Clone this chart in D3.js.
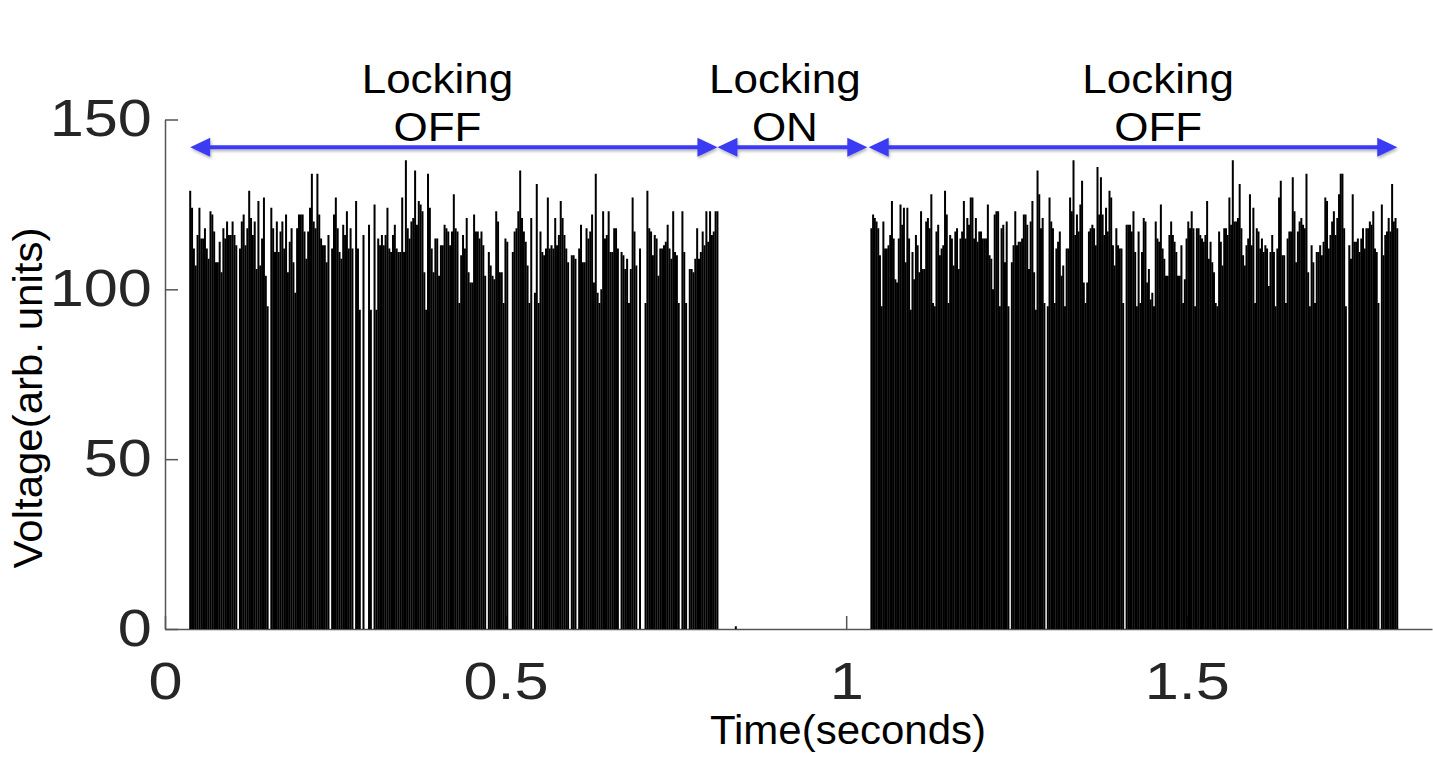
<!DOCTYPE html>
<html lang="en">
<head>
<meta charset="UTF-8">
<title>Voltage vs time, locking on/off</title>
<script src="https://cdn.jsdelivr.net/npm/d3@7/dist/d3.min.js"></script>
<style>
    body{ margin:0; background:#fff; }
    svg{ display:block; }
</style>
</head>
<body>
<script>
    // values (arb. units), spikes in time order
    const lockOffFirst = [
        129,124,112,107,116,124,115,115,118,112, 109,123,122,117,108,108,114,105,118,115,
        120,116,116,120,116,113,0,112,120,122, 113,118,129,121,116,120,106,126,107,115,
        127,104,95,0,124,118,111,120,111,117, 120,112,122,105,114,118,108,99,118,122,
        122,122,117,109,117,124,134,120,118,134, 122,115,113,113,108,116,0,112,122,127,
        118,111,109,119,116,123,112,118,112,0, 126,112,94,0,116,0,0,119,94,0,
        125,94,115,113,116,113,116,124,112,111, 116,119,112,111,111,127,111,138,118,115,
        120,121,135,119,126,125,123,105,94,134, 124,112,105,115,115,104,113,113,119,118,117,
        113,117,128,118,117,96,110,116,112,121, 105,102,102,122,117,117,115,117,113,104,
        0,111,107,104,103,123,120,105,105,96, 115,114,0,0,111,117,118,123,135,121,
        117,114,107,96,121,0,99,131,96,117, 111,110,112,127,112,113,112,121,113,116,
        126,121,116,112,108,0,110,110,109,0, 112,119,108,108,118,115,117,122,102,134,
        99,96,100,123,115,116,123,111,111,118, 118,112,0,111,110,106,109,96,106,127,
        117,107,0,112,0,0,96,129,118,117, 110,116,115,104,112,112,113,114,119,112,
        109,123,111,110,96,0,123,111,96,0, 106,106,105,109,118,109,111,117,113,123,
        114,123,116,117,123,123
    ];
    const lockOffSecond = [
        118,122,121,120,118,110,95,120,112,112, 113,116,126,115,103,102,115,125,119,124,
        108,124,115,94,111,103,116,113,105,123, 106,106,120,121,118,128,96,95,117,119,
        110,112,113,129,122,96,116,115,107,117, 118,106,115,117,126,115,121,119,127,127,
        115,121,114,117,117,115,115,115,125,110, 109,100,122,123,123,95,118,119,108,120,
        95,0,108,113,123,113,114,114,115,122, 122,119,106,120,126,105,94,135,128,118,
        121,96,0,95,127,120,118,96,112,114, 117,104,107,95,112,112,127,123,138,116,
        122,117,125,132,102,96,102,117,118,119, 118,113,136,122,133,122,116,124,117,129,
        127,113,107,118,113,112,112,96,0,119,119,
        119,117,123,111,95,117,96,111,121,120, 102,106,97,99,95,120,115,114,125,112,
        109,104,104,116,120,116,114,111,104,104, 113,96,103,115,120,118,123,118,95,118,
        118,116,115,114,116,126,109,114,108,105, 96,95,117,114,107,118,118,116,127,119,
        138,120,120,121,131,118,110,107,113,115, 128,113,124,96,118,117,112,115,111,113,
        112,101,111,116,111,95,112,127,132,110, 110,96,115,117,117,133,123,108,117,120,
        121,119,118,134,105,95,113,108,96,111, 111,113,110,114,127,126,112,116,120,123,
        116,121,128,134,134,118,95,0,113,109, 128,114,114,115,111,115,118,112,118,118,
        120,119,123,112,111,96,0,125,110,116, 117,121,117,131,120,121,118
    ];
    // the only blip while locking is on
    const lockOnTimes = [0.838];
    const lockOnValues = [0.8];

    // time span (s) of each sampled run
    const runStart = [0.037, 1.037];
    const runEnd = [0.811, 1.809];

    // annotation regions (s)
    const regionStart = [0.037, 0.811, 1.033];
    const regionEnd = [0.811, 1.031, 1.809];
    const regionLine1 = ["Locking", "Locking", "Locking"];
    const regionLine2 = ["OFF", "ON", "OFF"];
    const regionLabelAt = [0.4, 0.91, 1.458];
    const arrowLevel = 141.8;

    const xTicks = [0, 0.5, 1, 1.5];
    const yTicks = [0, 50, 100, 150];

    const width = 1433, height = 758;
    const font = "'Liberation Sans', Arial, Helvetica, sans-serif";

    const svg = d3.select("body").append("svg")
        .attr("width", width)
        .attr("height", height);

    const x = d3.scaleLinear().domain([0, 1.86]).range([165, 1432]);
    const y = d3.scaleLinear().domain([0, 150]).range([629, 119.5]);

    // drop shadow for the blue arrows
    const f = svg.append("defs").append("filter").attr("id", "shadow")
        .attr("x", "-5%").attr("y", "-50%").attr("width", "110%").attr("height", "200%");
    f.append("feDropShadow").attr("dx", 1).attr("dy", 2)
        .attr("stdDeviation", 1.5).attr("flood-color", "#000").attr("flood-opacity", 0.3);

    // axes
    const yAxis = svg.append("g")
        .attr("transform", `translate(${x(0)},0)`)
        .call(d3.axisLeft(y).tickValues(yTicks).tickSizeInner(-13).tickSizeOuter(0).tickPadding(11));
    const xAxis = svg.append("g")
        .attr("transform", `translate(0,${y(0)})`)
        .call(d3.axisBottom(x).tickValues(xTicks).tickSizeInner(-13).tickSizeOuter(0)
            .tickPadding(34).tickFormat(d => String(d)));

    [yAxis, xAxis].forEach(g => {
        g.selectAll("path, line").attr("stroke", "#555").attr("stroke-width", 1.5);
        g.selectAll("text")
            .attr("fill", "#262626")
            .attr("font-family", font)
            .attr("font-size", 51);
    });
    yAxis.selectAll("text").attr("transform", "scale(1.2,1)");
    xAxis.selectAll("text").attr("transform", "scale(1.2,1)");

    // spikes
    const points = [];
    [lockOffFirst, lockOffSecond].forEach((vals, k) => {
        const step = (runEnd[k] - runStart[k]) / (vals.length - 1);
        vals.forEach((v, i) => points.push({t: runStart[k] + i * step, v: v}));
    });
    lockOnTimes.forEach((t, i) => points.push({t: t, v: lockOnValues[i]}));

    svg.append("g").selectAll("line")
        .data(points.filter(d => d.v > 0))
        .join("line")
        .attr("x1", d => x(d.t)).attr("x2", d => x(d.t))
        .attr("y1", y(0)).attr("y2", d => y(d.v))
        .attr("stroke", "#000")
        .attr("stroke-width", 2);

    // region arrows
    const blue = "#3a3af4";
    const head = 20, half = 9.5;
    const ay = y(arrowLevel);
    const arrows = svg.append("g").attr("filter", "url(#shadow)");
    regionStart.forEach((s, i) => {
        const x0 = x(s), x1 = x(regionEnd[i]);
        arrows.append("line")
            .attr("x1", x0 + head - 2).attr("x2", x1 - head + 2)
            .attr("y1", ay).attr("y2", ay)
            .attr("stroke", blue).attr("stroke-width", 4);
        arrows.append("path")
            .attr("d", `M${x0},${ay}L${x0 + head},${ay - half}L${x0 + head},${ay + half}Z`)
            .attr("fill", blue);
        arrows.append("path")
            .attr("d", `M${x1},${ay}L${x1 - head},${ay - half}L${x1 - head},${ay + half}Z`)
            .attr("fill", blue);
    });

    // region labels
    const labels = svg.append("g")
        .attr("font-family", font)
        .attr("font-size", 40)
        .attr("text-anchor", "middle")
        .attr("fill", "#000");
    regionLabelAt.forEach((t, i) => {
        labels.append("text")
            .attr("transform", `translate(${x(t)},93) scale(1.1,1)`)
            .text(regionLine1[i]);
        labels.append("text")
            .attr("transform", `translate(${x(t)},141) scale(1.1,1)`)
            .text(regionLine2[i]);
    });

    // axis titles
    svg.append("text")
        .attr("transform", "translate(848,744) scale(1.05,1)")
        .attr("text-anchor", "middle")
        .attr("font-family", font)
        .attr("font-size", 40)
        .attr("fill", "#000")
        .text("Time(seconds)");

    svg.append("text")
        .attr("transform", "translate(42,398) rotate(-90) scale(1.05,1)")
        .attr("text-anchor", "middle")
        .attr("font-family", font)
        .attr("font-size", 40)
        .attr("fill", "#000")
        .text("Voltage(arb. units)");
</script>
</body>
</html>
